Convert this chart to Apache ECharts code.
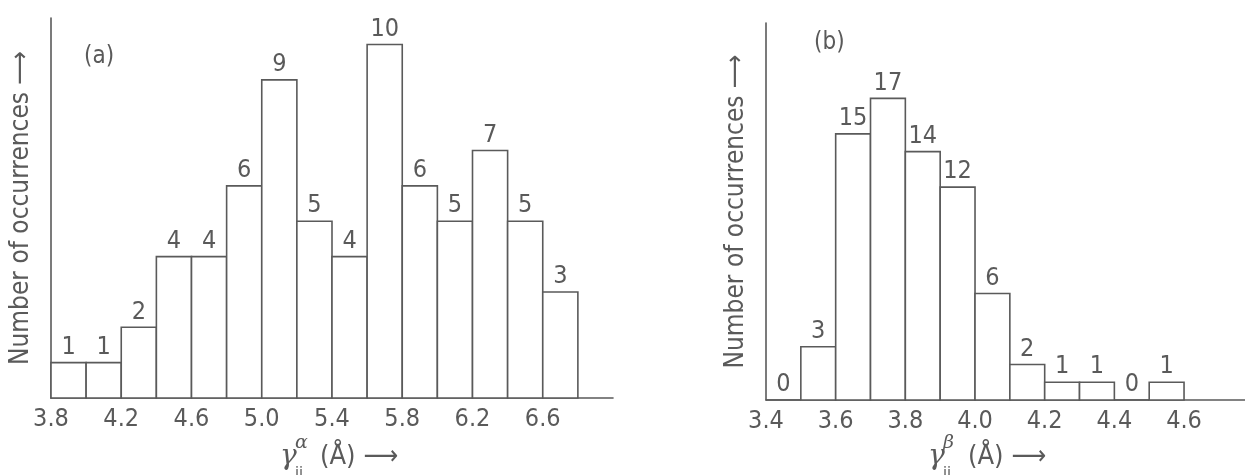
<!DOCTYPE html>
<html><head><meta charset="utf-8">
<script src="https://cdn.jsdelivr.net/npm/echarts@6/dist/echarts.min.js"></script>
<style>html,body{margin:0;padding:0;background:#fff}#c{width:1245px;height:475px}</style>
</head><body><div id="c"></div>
<script>
// ---- data ----
const binStartsA = [3.8, 4.0, 4.2, 4.4, 4.6, 4.8, 5.0, 5.2, 5.4, 5.6, 5.8, 6.0, 6.2, 6.4, 6.6];
const countsA    = [1, 1, 2, 4, 4, 6, 9, 5, 4, 10, 6, 5, 7, 5, 3];
const binWidthA  = 0.2;
const tickLabelsA = ['3.8', '4.2', '4.6', '5.0', '5.4', '5.8', '6.2', '6.6'];

const binStartsB = [3.4, 3.5, 3.6, 3.7, 3.8, 3.9, 4.0, 4.1, 4.2, 4.3, 4.4, 4.5];
const countsB    = [0, 3, 15, 17, 14, 12, 6, 2, 1, 1, 0, 1];
const binWidthB  = 0.1;
const tickLabelsB = ['3.4', '3.6', '3.8', '4.0', '4.2', '4.4', '4.6'];

const yNameA = 'Number of occurrences ⟶';
const yNameB = 'Number of occurrences ⟶';
const panelA = '(a)';
const panelB = '(b)';

// ---- styles ----
const LINE = '#5a5a5a';
const TXT = '#5a5a5a';
const FONT = "'Liberation Sans Narrow', 'DejaVu Sans Condensed', 'DejaVu Sans', sans-serif";

function toData(starts, counts, w) {
  return starts.map((s, i) => [s, +(s + w).toFixed(3), counts[i]]);
}

function renderHist(params, api) {
  const x0 = api.value(0), x1 = api.value(1), y = api.value(2);
  const p0 = api.coord([x0, 0]);
  const p1 = api.coord([x1, y]);
  return {
    type: 'rect',
    shape: { x: p0[0], y: p1[1], width: p1[0] - p0[0], height: p0[1] - p1[1] },
    style: { fill: '#fff', stroke: LINE, lineWidth: 1.6 },
    textContent: {
      style: { text: String(y), fill: TXT, fontFamily: FONT, fontSize: 25 }
    },
    textConfig: { position: 'top', distance: 2 }
  };
}

function fmt(labels) {
  return function (v) {
    const s = v.toFixed(1);
    return labels.indexOf(s) >= 0 ? s : '';
  };
}

const xAxisCommon = {
  type: 'value',
  axisLine: { show: true, lineStyle: { color: LINE, width: 1.6 } },
  axisTick: { show: false },
  splitLine: { show: false },
};
const yAxisCommon = {
  type: 'value',
  min: 0,
  axisLine: { show: true, lineStyle: { color: LINE, width: 1.6 } },
  axisTick: { show: false },
  axisLabel: { show: false },
  splitLine: { show: false },
  nameLocation: 'middle',
  nameRotate: 90,
  nameGap: 17,
  nameTextStyle: { color: TXT, fontFamily: FONT, fontSize: 26 }
};

const chart = echarts.init(document.getElementById('c'), null, { renderer: 'canvas' });

function titleGroup(cx, sym, sub) {
  return {
    type: 'group',
    left: cx, top: 434,
    children: [
      { type: 'text', x: 0, y: 9, style: { text: 'γ', font: "italic 28px 'DejaVu Serif', serif", fill: TXT } },
      { type: 'text', x: 15, y: 0, style: { text: sym, font: "italic 19px 'DejaVu Serif', serif", fill: TXT } },
      { type: 'text', x: 15, y: 32, style: { text: sub, font: "16px " + FONT, fill: TXT } },
      { type: 'text', x: 40, y: 9, style: { text: '(Å) ⟶', font: "27px " + FONT, fill: TXT } }
    ]
  };
}

chart.setOption({
  backgroundColor: '#fff',
  animation: false,
  textStyle: { fontFamily: FONT },
  grid: [
    { left: 51, right: 632, top: 18, bottom: 77 },
    { left: 766, right: 0, top: 23, bottom: 75 }
  ],
  xAxis: [
    Object.assign({}, xAxisCommon, {
      gridIndex: 0, min: 3.8, max: 7.0, interval: 0.2,
      axisLabel: { formatter: fmt(tickLabelsA), color: TXT, fontSize: 25, margin: 9, showMaxLabel: false }
    }),
    Object.assign({}, xAxisCommon, {
      gridIndex: 1, min: 3.4, max: 4.775, interval: 0.1,
      axisLabel: { formatter: fmt(tickLabelsB), color: TXT, fontSize: 25, margin: 9, showMaxLabel: false }
    })
  ],
  yAxis: [
    Object.assign({}, yAxisCommon, { gridIndex: 0, max: 10.75, name: yNameA }),
    Object.assign({}, yAxisCommon, { gridIndex: 1, max: 21.25, name: yNameB })
  ],
  series: [
    {
      type: 'custom', xAxisIndex: 0, yAxisIndex: 0,
      renderItem: renderHist,
      encode: { x: [0, 1], y: 2 },
      data: toData(binStartsA, countsA, binWidthA)
    },
    {
      type: 'custom', xAxisIndex: 1, yAxisIndex: 1,
      renderItem: renderHist,
      encode: { x: [0, 1], y: 2 },
      data: toData(binStartsB, countsB, binWidthB)
    }
  ],
  graphic: [
    { type: 'text', left: 84, top: 45, style: { text: panelA, font: "24px " + FONT, fill: TXT } },
    { type: 'text', left: 814, top: 31, style: { text: panelB, font: "24px " + FONT, fill: TXT } },
    titleGroup(280, 'α', 'ij'),
    titleGroup(928, 'β', 'ij')
  ]
});
</script>
</body></html>
